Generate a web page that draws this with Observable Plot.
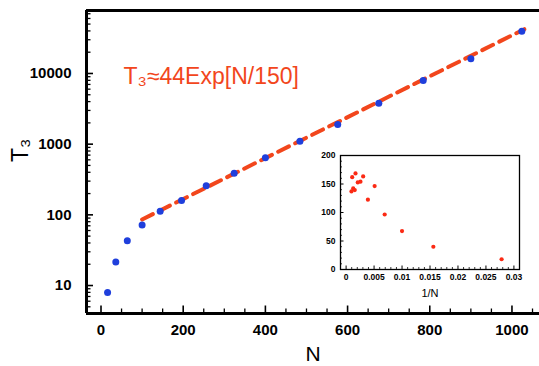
<!DOCTYPE html>
<html><head><meta charset="utf-8">
<script src="https://cdn.jsdelivr.net/npm/d3@7"></script>
<script src="https://cdn.jsdelivr.net/npm/@observablehq/plot@0.6"></script>
<style>
body{margin:0;background:#fff;}
#wrap{position:relative;width:539px;height:366px;overflow:hidden;background:#fff;}
#main{position:absolute;left:0;top:0;}
#inset{position:absolute;left:300px;top:150px;}
</style></head><body><div id="wrap"><div id="main"></div><div id="inset"></div></div>
<script>
// main series: N vs T3
const N  = [16, 36, 64, 100, 144, 196, 256, 324, 400, 484, 576, 676, 784, 900, 1024];
const T3 = [8.0, 21.6, 43, 72, 112, 159, 257, 387, 640, 1100, 1900, 3800, 7960, 16100, 39600];
// fitted curve T3 ≈ 44 Exp[N/150] (straight on log axis), endpoints
const fitN = [100, 1030];
const fitT = [86, 42300];
const fitLabel = "T₃≈44Exp[N/150]";
const xTicks = [0, 200, 400, 600, 800, 1000];
const yTicks = [10, 100, 1000, 10000];
const xTitle = "N";
const yTitle = "T₃";
// inset: 1/N vs value
const insetX = [0.0278, 0.0156, 0.0100, 0.0069, 0.0051, 0.0039, 0.00305, 0.00257, 0.00209, 0.00168, 0.00155, 0.00127, 0.00109, 0.00096];
const insetY = [18, 39.9, 67.4, 96.5, 146.3, 122.5, 163.3, 154, 152.8, 168.5, 139.3, 142.2, 162, 137];
const insetXTicks = [0, 0.005, 0.01, 0.015, 0.02, 0.025, 0.03];
const insetYTicks = [0, 50, 100, 150, 200];
const insetXTitle = "1/N";

const mainData = N.map((n, i) => ({n, t: T3[i]}));
const fitData = fitN.map((n, i) => ({n, t: fitT[i]}));
const insetData = insetX.map((x, i) => ({x, y: insetY[i]}));

const BLUE = "#1f3fdc", RED = "#f2461c", IRED = "#fb2a14";
const font = "'Liberation Sans', Arial, Helvetica, sans-serif";

const W = 539, H = 366, mL = 86, mT = 10, mR = 0, mB = 53;
const pW = W - mL - mR, pH = H - mT - mB;
const xDom = [-35.3, 1067], yDom = [4.02, 77800];
const xMinor = d3.range(0, 1051, 50).filter(v => !xTicks.includes(v));
const yMinor = [];
for (let e = 0; e <= 4; e++) for (let k = 2; k <= 9; k++) { const v = k * Math.pow(10, e); if (v > yDom[0] && v < yDom[1]) yMinor.push(v); }

const main = Plot.plot({
  width: W, height: H, marginLeft: mL, marginTop: mT, marginRight: mR, marginBottom: mB,
  style: {fontFamily: font, background: "white", overflow: "visible"},
  x: {domain: xDom},
  y: {type: "log", domain: yDom},
  marks: [
    Plot.axisX(xTicks, {tickSize: 0, tickPadding: 11, fontSize: 15, fontWeight: "bold", tickFormat: d => String(d), label: null, fill: "black"}),
    Plot.axisY(yTicks, {tickSize: 0, tickPadding: 15, fontSize: 15, fontWeight: "bold", tickFormat: d => String(d), label: null, fill: "black"}),
    Plot.ruleX(xTicks, {stroke: "black", strokeWidth: 1.6, insetTop: pH - 7.5}),
    Plot.ruleX(xMinor, {stroke: "black", strokeWidth: 1.3, insetTop: pH - 4.5}),
    Plot.ruleY(yTicks, {stroke: "black", strokeWidth: 1.6, insetRight: pW - 7}),
    Plot.ruleY(yMinor, {stroke: "black", strokeWidth: 1.3, insetRight: pW - 4.5}),
    Plot.ruleX([xDom[0]], {stroke: "black", strokeWidth: 3}),
    Plot.ruleY([yDom[0], yDom[1]], {stroke: "black", strokeWidth: 3}),
    Plot.line(fitData, {x: "n", y: "t", stroke: RED, strokeWidth: 4, strokeDasharray: "12,7"}),
    Plot.dot(mainData, {x: "n", y: "t", r: 3.5, fill: BLUE}),
    Plot.text([fitLabel], {frameAnchor: "top-left", dx: 37, dy: 66, textAnchor: "start", lineAnchor: "middle", fontSize: 23, fill: RED}),
    Plot.text([xTitle], {frameAnchor: "bottom", dy: 41, lineAnchor: "middle", fontSize: 21, fill: "black"}),
    Plot.text([yTitle], {frameAnchor: "left", dx: -66, rotate: -90, lineAnchor: "middle", fontSize: 23, fill: "black"})
  ]
});
document.getElementById("main").append(main);

const iW = 230, iH = 150, imL = 40, imT = 5, imR = 11, imB = 31;
const ipW = iW - imL - imR, ipH = iH - imT - imB;
const ixMinor = d3.range(-1, 32).map(i => i / 1000).filter(v => !insetXTicks.some(t => Math.abs(t - v) < 1e-9));
const iyMinor = d3.range(0, 201, 10).filter(v => !insetYTicks.includes(v));

const inset = Plot.plot({
  width: iW, height: iH, marginLeft: imL, marginTop: imT, marginRight: imR, marginBottom: imB,
  style: {fontFamily: font, background: "transparent", overflow: "visible"},
  x: {domain: [-0.001, 0.031]},
  y: {domain: [0, 200]},
  marks: [
    Plot.rect([0], {x1: -0.001, x2: 0.031, y1: 0, y2: 200, fill: "white"}),
    Plot.axisX(insetXTicks, {tickSize: 0, tickPadding: 4, fontSize: 8.5, fontWeight: "bold", tickFormat: d => String(d), label: null, fill: "black"}),
    Plot.axisY(insetYTicks, {tickSize: 0, tickPadding: 5, fontSize: 8.5, fontWeight: "bold", tickFormat: d => String(d), label: null, fill: "black"}),
    Plot.ruleX(insetXTicks, {stroke: "black", strokeWidth: 1, insetTop: ipH - 3.5}),
    Plot.ruleX(ixMinor, {stroke: "black", strokeWidth: 0.8, insetTop: ipH - 2}),
    Plot.ruleY(insetYTicks, {stroke: "black", strokeWidth: 1, insetRight: ipW - 3.5}),
    Plot.ruleY(iyMinor, {stroke: "black", strokeWidth: 0.8, insetRight: ipW - 2}),
    Plot.frame({stroke: "black", strokeWidth: 1.3}),
    Plot.dot(insetData, {x: "x", y: "y", r: 2.1, fill: IRED}),
    Plot.text([insetXTitle], {frameAnchor: "bottom", dy: 24, lineAnchor: "middle", fontSize: 11, fill: "black"})
  ]
});
document.getElementById("inset").append(inset);
</script></body></html>
